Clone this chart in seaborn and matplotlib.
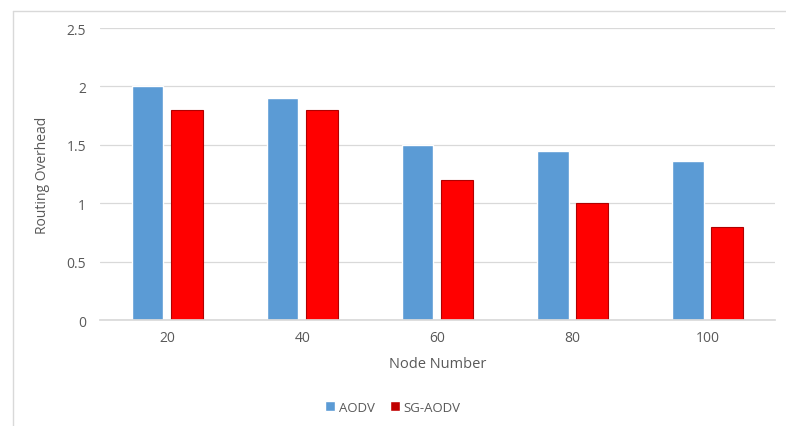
import pandas as pd
import matplotlib.pyplot as plt
import seaborn as sns
from matplotlib.patches import Patch

# values
node_numbers = ['20', '40', '60', '80', '100']
aodv = [2.0, 1.9, 1.5, 1.45, 1.36]
sg_aodv = [1.8, 1.8, 1.2, 1.0, 0.8]

df = pd.DataFrame({
    'Node Number': node_numbers * 2,
    'Routing Overhead': aodv + sg_aodv,
    'Protocol': ['AODV'] * len(aodv) + ['SG-AODV'] * len(sg_aodv),
})

sns.set_theme(style='white')
plt.rcParams['font.family'] = ['Open Sans', 'DejaVu Sans']

text_color = '#595959'
palette = {'AODV': '#5B9BD5', 'SG-AODV': '#FF0000'}

fig = plt.figure(figsize=(7.86, 4.27), dpi=100)
ax = fig.add_axes([0.127, 0.248, 0.859, 0.684])

sns.barplot(data=df, x='Node Number', y='Routing Overhead', hue='Protocol',
            order=node_numbers, palette=palette, width=0.58, gap=0.2,
            saturation=1, ax=ax, legend=False)

# thin darker edge on the red bars
for bar in ax.containers[1]:
    bar.set_edgecolor('#B00000')
    bar.set_linewidth(0.8)

ax.set_ylim(0, 2.5)
ax.set_yticks([0, 0.5, 1, 1.5, 2, 2.5])
ax.set_yticklabels(['0', '0.5', '1', '1.5', '2', '2.5'])
ax.yaxis.grid(True, color='#D9D9D9', linewidth=0.9)
ax.set_axisbelow(True)
for side in ['top', 'right', 'left']:
    ax.spines[side].set_visible(False)
ax.spines['bottom'].set_color('#D9D9D9')
ax.tick_params(axis='y', length=0, pad=10, labelsize=10, labelcolor=text_color)
ax.tick_params(axis='x', length=0, pad=7, labelsize=10, labelcolor=text_color)

ax.set_xlabel('Node Number', fontsize=10.5, color=text_color, labelpad=8)
ax.set_ylabel('Routing Overhead', fontsize=10, color=text_color, labelpad=12)

handles = [Patch(facecolor='#5B9BD5'), Patch(facecolor='#C00000')]
fig.legend(handles, ['AODV', 'SG-AODV'], loc='center', bbox_to_anchor=(0.5, 0.044),
           ncol=2, frameon=False, fontsize=9.5, handlelength=0.7, handleheight=0.7,
           handletextpad=0.3, columnspacing=1.2, labelcolor=text_color)

# light chart border at left and top
fig.add_artist(plt.Line2D([0.016, 0.016], [0.0, 0.972], color='#D9D9D9', linewidth=1))
fig.add_artist(plt.Line2D([0.016, 1.0], [0.972, 0.972], color='#D9D9D9', linewidth=1))

plt.savefig('out.png', dpi=100)
